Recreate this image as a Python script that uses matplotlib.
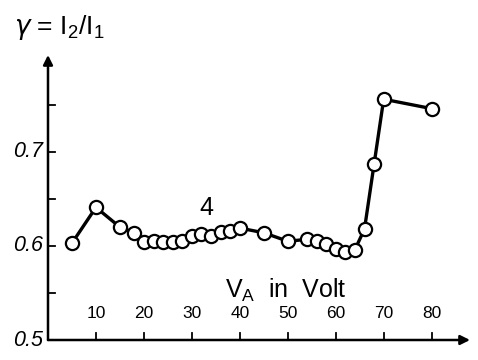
import matplotlib
matplotlib.use('Agg')
import matplotlib.pyplot as plt

# Messwerte: Anodenspannung V_A (Volt) und Verhältnis gamma = I2/I1
spannung = [5, 10, 15, 18, 20, 22, 24, 26, 28, 30, 32, 34, 36, 38, 40,
            45, 50, 54, 56, 58, 60, 62, 64, 66, 68, 70, 80]
gamma = [0.603, 0.641, 0.620, 0.614, 0.604, 0.605, 0.604, 0.604, 0.605,
         0.611, 0.613, 0.611, 0.615, 0.616, 0.619, 0.614, 0.605, 0.607,
         0.605, 0.602, 0.597, 0.594, 0.596, 0.618, 0.687, 0.756, 0.746]
x_ticks = [10, 20, 30, 40, 50, 60, 70, 80]
y_ticks = [0.55, 0.6, 0.65, 0.7, 0.75]
y_labels = {0.5: '0.5', 0.6: '0.6', 0.7: '0.7'}

plt.rcParams['font.family'] = ['Liberation Sans', 'DejaVu Sans']
plt.rcParams['mathtext.fontset'] = 'custom'
plt.rcParams['mathtext.it'] = 'DejaVu Sans:italic'

fig = plt.figure(figsize=(4.78, 3.6), dpi=100, facecolor='white')
ax = fig.add_axes([48 / 478, 20 / 360, 422 / 478, 285 / 360])
ax.set_xlim(0, 88)
ax.set_ylim(0.5, 0.803)
ax.axis('off')

# Achsen mit Pfeilen
ax.annotate('', xy=(1.0, 0), xytext=(0, 0), xycoords='axes fraction',
            arrowprops=dict(arrowstyle='-|>', color='black', lw=1.8,
                            mutation_scale=14, shrinkA=0, shrinkB=0))
ax.annotate('', xy=(0, 1.0), xytext=(0, 0), xycoords='axes fraction',
            arrowprops=dict(arrowstyle='-|>', color='black', lw=1.8,
                            mutation_scale=14, shrinkA=0, shrinkB=0))

# Teilstriche
for v in x_ticks:
    ax.plot([v, v], [0.5, 0.507], color='black', lw=1.3)
    ax.text(v, 0.528, str(v), ha='center', va='center', fontsize=12.5,
            color='black')
for g in y_ticks:
    ax.plot([0, 1.5], [g, g], color='black', lw=1.3)
for g, lab in y_labels.items():
    ax.text(-1.0, g, lab, ha='right', va='center', fontsize=15.5,
            fontstyle='italic', color='black', clip_on=False)

# Messkurve
ax.plot(spannung, gamma, color='black', lw=2.4, marker='o', ms=9.5,
        mfc='white', mec='black', mew=1.6, zorder=3)

ax.text(33, 0.628, '4', ha='center', va='bottom', fontsize=18, color='black')
ax.text(49.5, 0.553, r'V$_\mathregular{A}$  in  Volt', ha='center',
        va='center', fontsize=18, color='black')

fig.text(0.03, 0.965, r'$\gamma$ = I$_\mathregular{2}$/I$_\mathregular{1}$',
         ha='left', va='top', fontsize=19, color='black')

fig.savefig('out.png', dpi=100, facecolor='white')
